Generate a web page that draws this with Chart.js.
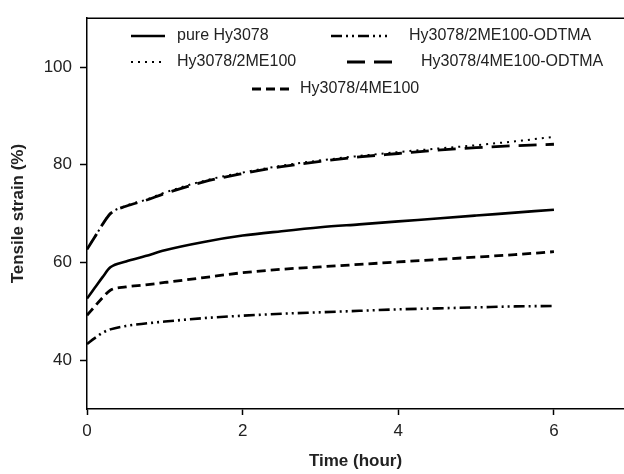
<!DOCTYPE html>
<html>
<head>
<meta charset="utf-8">
<script src="https://cdn.jsdelivr.net/npm/chart.js@4.4.0/dist/chart.umd.min.js"></script>
<style>
  html, body { margin: 0; padding: 0; background: #fff; overflow: hidden; }
  #wrap { width: 624px; height: 474px; position: relative; }
</style>
</head>
<body>
<div id="wrap"><canvas id="myChart"></canvas></div>
<script>
// data
var times = [0, 0.1, 0.2, 0.3, 0.5, 0.75, 1, 1.5, 2, 2.5, 3, 3.5, 4, 4.5, 5, 5.5, 6];
var pureHy = [52.6, 54.8, 57.0, 59.0, 60.2, 61.3, 62.5, 64.2, 65.5, 66.4, 67.2, 67.8, 68.4, 69.0, 69.6, 70.2, 70.8];
var hy2ME = [62.7, 65.2, 67.8, 70.0, 71.6, 72.8, 74.3, 76.7, 78.4, 79.8, 80.9, 81.8, 82.6, 83.3, 84.0, 84.8, 85.7];
var hy2MEodt = [43.3, 44.5, 45.6, 46.3, 47.0, 47.5, 47.9, 48.6, 49.1, 49.5, 49.8, 50.1, 50.4, 50.6, 50.8, 51.0, 51.1];
var hy4MEodt = [62.7, 65.2, 67.8, 70.0, 71.5, 72.7, 74.1, 76.5, 78.2, 79.6, 80.7, 81.6, 82.3, 83.0, 83.5, 83.9, 84.2];
var hy4ME = [49.2, 51.0, 52.8, 54.3, 55.0, 55.4, 55.9, 56.9, 57.9, 58.6, 59.1, 59.6, 60.1, 60.6, 61.1, 61.6, 62.2];
var xTicks = [0, 2, 4, 6];
var yTicks = [40, 60, 80, 100];

function pts(arr) {
  return arr.map(function (v, i) { return { x: times[i], y: v }; });
}

var datasets = [
  { label: "pure Hy3078", data: pts(pureHy), dash: [], width: 2.6, legX: 131, legY: 36, legLen: 34, textX: 177 },
  { label: "Hy3078/2ME100-ODTMA", data: pts(hy2MEodt), dash: [11, 4, 2, 4, 2, 4], width: 2.6, legX: 331, legY: 36, legLen: 56, textX: 409 },
  { label: "Hy3078/2ME100", data: pts(hy2ME), dash: [2, 5], width: 2, legX: 131, legY: 62, legLen: 34, textX: 177 },
  { label: "Hy3078/4ME100-ODTMA", data: pts(hy4MEodt), dash: [18, 9], width: 2.8, legX: 347, legY: 62, legLen: 52, textX: 421 },
  { label: "Hy3078/4ME100", data: pts(hy4ME), dash: [9, 5], width: 2.8, legX: 252, legY: 89, legLen: 38, textX: 300 }
].map(function (d) {
  d.borderColor = '#000';
  d.borderWidth = d.width;
  d.borderDash = d.dash;
  d.pointRadius = 0;
  d.fill = false;
  d.cubicInterpolationMode = 'monotone';
  return d;
});

// legend + top frame line
var extras = {
  id: 'extras',
  afterDraw: function (chart) {
    var c = chart.ctx, a = chart.chartArea;
    c.save();
    c.strokeStyle = '#000';
    c.lineWidth = 1.5;
    c.beginPath();
    c.moveTo(a.left, a.top);
    c.lineTo(a.right, a.top);
    c.stroke();
    c.font = '16px "Liberation Sans", Arial, sans-serif';
    c.fillStyle = '#222';
    c.textBaseline = 'middle';
    chart.data.datasets.forEach(function (d) {
      c.setLineDash(d.dash);
      c.lineWidth = d.width;
      c.beginPath();
      c.moveTo(d.legX, d.legY);
      c.lineTo(d.legX + d.legLen, d.legY);
      c.stroke();
      c.setLineDash([]);
      c.fillText(d.label, d.textX, d.legY);
    });
    c.restore();
  }
};

var ctx = document.getElementById('myChart').getContext('2d');
var myChart = new Chart(ctx, {
  type: 'line',
  data: { datasets: datasets },
  options: {
    responsive: true,
    maintainAspectRatio: false,
    animation: false,
    layout: { padding: { top: 12, right: 0, left: 0, bottom: 0 } },
    plugins: { legend: { display: false }, tooltip: { enabled: false } },
    scales: {
      x: {
        type: 'linear',
        min: 0,
        max: 6.9,
        afterBuildTicks: function (s) { s.ticks = xTicks.map(function (v) { return { value: v }; }); },
        afterFit: function (s) { s.height = 65; },
        grid: { drawOnChartArea: false, drawTicks: true, tickLength: 6, tickColor: '#000', tickWidth: 1.5 },
        border: { display: true, color: '#000', width: 1.5 },
        ticks: { color: '#222', padding: 6, maxRotation: 0, font: { family: '"Liberation Sans", Arial', size: 17 } },
        title: { display: true, text: 'Time (hour)', color: '#222', padding: { top: 4, bottom: 2 },
                 font: { family: '"Liberation Sans", Arial', size: 17, weight: 'bold' } }
      },
      y: {
        min: 30,
        max: 110,
        afterBuildTicks: function (s) { s.ticks = yTicks.map(function (v) { return { value: v }; }); },
        afterFit: function (s) { s.width = 87; },
        grid: { drawOnChartArea: false, drawTicks: true, tickLength: 7, tickColor: '#000', tickWidth: 1.5 },
        border: { display: true, color: '#000', width: 1.5 },
        ticks: { color: '#222', padding: 8, font: { family: '"Liberation Sans", Arial', size: 17 } },
        title: { display: true, text: 'Tensile strain (%)', color: '#222', padding: { top: 8, bottom: 4 },
                 font: { family: '"Liberation Sans", Arial', size: 17, weight: 'bold' } }
      }
    }
  },
  plugins: [extras]
});
</script>
</body>
</html>
